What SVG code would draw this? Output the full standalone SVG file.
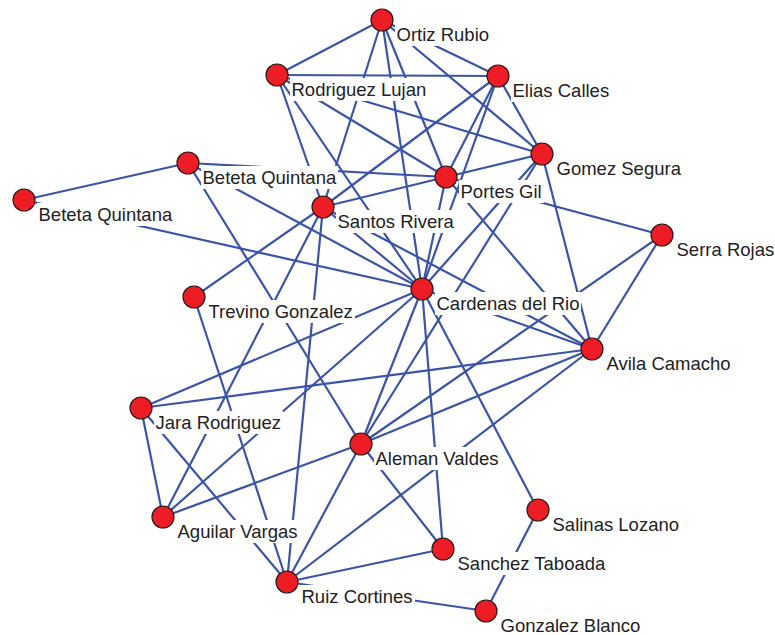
<svg xmlns="http://www.w3.org/2000/svg" width="775" height="635" viewBox="0 0 775 635">
<style>
.e{stroke:#3b54a6;stroke-width:2.2;fill:none}
.n{fill:#ee1c24;stroke:#2a1a1a;stroke-width:1.2}
.b{fill:#fff}
.t{font-family:"Liberation Sans",Arial,sans-serif;font-size:18.5px;fill:#222}
</style>
<rect width="775" height="635" fill="#fff"/>
<g id="connectors">
<line class="e" x1="382" y1="20" x2="277" y2="75"/>
<line class="e" x1="382" y1="20" x2="498" y2="76"/>
<line class="e" x1="382" y1="20" x2="323" y2="207"/>
<line class="e" x1="382" y1="20" x2="422" y2="289"/>
<line class="e" x1="382" y1="20" x2="446" y2="177"/>
<line class="e" x1="382" y1="20" x2="542" y2="154"/>
<line class="e" x1="277" y1="75" x2="498" y2="76"/>
<line class="e" x1="277" y1="75" x2="323" y2="207"/>
<line class="e" x1="277" y1="75" x2="422" y2="289"/>
<line class="e" x1="277" y1="75" x2="446" y2="177"/>
<line class="e" x1="277" y1="75" x2="542" y2="154"/>
<line class="e" x1="498" y1="76" x2="542" y2="154"/>
<line class="e" x1="498" y1="76" x2="323" y2="207"/>
<line class="e" x1="498" y1="76" x2="446" y2="177"/>
<line class="e" x1="498" y1="76" x2="422" y2="289"/>
<line class="e" x1="188" y1="163" x2="24" y2="200"/>
<line class="e" x1="188" y1="163" x2="446" y2="177"/>
<line class="e" x1="188" y1="163" x2="422" y2="289"/>
<line class="e" x1="188" y1="163" x2="361" y2="444"/>
<line class="e" x1="24" y1="200" x2="422" y2="289"/>
<line class="e" x1="323" y1="207" x2="446" y2="177"/>
<line class="e" x1="446" y1="177" x2="542" y2="154"/>
<line class="e" x1="446" y1="177" x2="662" y2="235"/>
<line class="e" x1="446" y1="177" x2="592" y2="349"/>
<line class="e" x1="446" y1="177" x2="422" y2="289"/>
<line class="e" x1="542" y1="154" x2="422" y2="289"/>
<line class="e" x1="542" y1="154" x2="361" y2="444"/>
<line class="e" x1="542" y1="154" x2="592" y2="349"/>
<line class="e" x1="323" y1="207" x2="194" y2="297"/>
<line class="e" x1="323" y1="207" x2="422" y2="289"/>
<line class="e" x1="323" y1="207" x2="592" y2="349"/>
<line class="e" x1="323" y1="207" x2="163" y2="517"/>
<line class="e" x1="323" y1="207" x2="287" y2="582"/>
<line class="e" x1="662" y1="235" x2="361" y2="444"/>
<line class="e" x1="662" y1="235" x2="592" y2="349"/>
<line class="e" x1="422" y1="289" x2="592" y2="349"/>
<line class="e" x1="422" y1="289" x2="141" y2="408"/>
<line class="e" x1="422" y1="289" x2="163" y2="517"/>
<line class="e" x1="422" y1="289" x2="361" y2="444"/>
<line class="e" x1="422" y1="289" x2="443" y2="549"/>
<line class="e" x1="422" y1="289" x2="538" y2="510"/>
<line class="e" x1="194" y1="297" x2="287" y2="582"/>
<line class="e" x1="592" y1="349" x2="141" y2="408"/>
<line class="e" x1="592" y1="349" x2="361" y2="444"/>
<line class="e" x1="592" y1="349" x2="287" y2="582"/>
<line class="e" x1="141" y1="408" x2="163" y2="517"/>
<line class="e" x1="141" y1="408" x2="287" y2="582"/>
<line class="e" x1="361" y1="444" x2="163" y2="517"/>
<line class="e" x1="361" y1="444" x2="443" y2="549"/>
<line class="e" x1="361" y1="444" x2="287" y2="582"/>
<line class="e" x1="443" y1="549" x2="287" y2="582"/>
<line class="e" x1="538" y1="510" x2="486" y2="611"/>
<line class="e" x1="287" y1="582" x2="486" y2="611"/>
</g>
<g id="n-ortiz-rubio"><circle class="n" cx="382" cy="20" r="11"/><rect class="b" x="395" y="23" width="96" height="23"/><text class="t" x="396.5" y="40.5">Ortiz Rubio</text></g>
<g id="n-rodriguez-lujan"><circle class="n" cx="277" cy="75" r="11"/><rect class="b" x="290" y="78" width="138" height="23"/><text class="t" x="291.5" y="95.5">Rodriguez Lujan</text></g>
<g id="n-elias-calles"><circle class="n" cx="498" cy="76" r="11"/><rect class="b" x="511" y="79" width="100" height="23"/><text class="t" x="512.5" y="96.5">Elias Calles</text></g>
<g id="n-gomez-segura"><circle class="n" cx="542" cy="154" r="11"/><rect class="b" x="555" y="157" width="128" height="23"/><text class="t" x="556.5" y="174.5">Gomez Segura</text></g>
<g id="n-beteta-quintana-1"><circle class="n" cx="188" cy="163" r="11"/><rect class="b" x="201" y="166" width="137" height="23"/><text class="t" x="202.5" y="183.5">Beteta Quintana</text></g>
<g id="n-beteta-quintana-2"><circle class="n" cx="24" cy="200" r="11"/><rect class="b" x="37" y="203" width="137" height="23"/><text class="t" x="38.5" y="220.5">Beteta Quintana</text></g>
<g id="n-portes-gil"><circle class="n" cx="446" cy="177" r="11"/><rect class="b" x="459" y="180" width="85" height="23"/><text class="t" x="460.5" y="197.5">Portes Gil</text></g>
<g id="n-santos-rivera"><circle class="n" cx="323" cy="207" r="11"/><rect class="b" x="336" y="210" width="120" height="23"/><text class="t" x="337.5" y="227.5">Santos Rivera</text></g>
<g id="n-serra-rojas"><circle class="n" cx="662" cy="235" r="11"/><rect class="b" x="675" y="238" width="101" height="23"/><text class="t" x="676.5" y="255.5">Serra Rojas</text></g>
<g id="n-cardenas-del-rio"><circle class="n" cx="422" cy="289" r="11"/><rect class="b" x="435" y="292" width="146" height="23"/><text class="t" x="436.5" y="309.5">Cardenas del Rio</text></g>
<g id="n-trevino-gonzalez"><circle class="n" cx="194" cy="297" r="11"/><rect class="b" x="207" y="300" width="148" height="23"/><text class="t" x="208.5" y="317.5">Trevino Gonzalez</text></g>
<g id="n-avila-camacho"><circle class="n" cx="592" cy="349" r="11"/><rect class="b" x="605" y="352" width="128" height="23"/><text class="t" x="606.5" y="369.5">Avila Camacho</text></g>
<g id="n-jara-rodriguez"><circle class="n" cx="141" cy="408" r="11"/><rect class="b" x="154" y="411" width="129" height="23"/><text class="t" x="155.5" y="428.5">Jara Rodriguez</text></g>
<g id="n-aleman-valdes"><circle class="n" cx="361" cy="444" r="11"/><rect class="b" x="374" y="447" width="128" height="23"/><text class="t" x="375.5" y="464.5">Aleman Valdes</text></g>
<g id="n-salinas-lozano"><circle class="n" cx="538" cy="510" r="11"/><rect class="b" x="551" y="513" width="130" height="23"/><text class="t" x="552.5" y="530.5">Salinas Lozano</text></g>
<g id="n-aguilar-vargas"><circle class="n" cx="163" cy="517" r="11"/><rect class="b" x="176" y="520" width="125" height="23"/><text class="t" x="177.5" y="537.5">Aguilar Vargas</text></g>
<g id="n-sanchez-taboada"><circle class="n" cx="443" cy="549" r="11"/><rect class="b" x="456" y="552" width="155" height="23"/><text class="t" x="457.5" y="569.5">Sanchez Taboada</text></g>
<g id="n-ruiz-cortines"><circle class="n" cx="287" cy="582" r="11"/><rect class="b" x="300" y="585" width="115" height="23"/><text class="t" x="301.5" y="602.5">Ruiz Cortines</text></g>
<g id="n-gonzalez-blanco"><circle class="n" cx="486" cy="611" r="11"/><rect class="b" x="499" y="614" width="143" height="23"/><text class="t" x="500.5" y="631.5">Gonzalez Blanco</text></g>
</svg>
